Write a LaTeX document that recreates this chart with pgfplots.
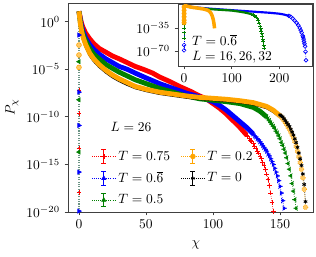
\documentclass[border=0pt]{standalone}
\usepackage{pgfplots}
\pgfplotsset{compat=1.18}
\definecolor{mred}{rgb}{1,0,0}
\definecolor{mblue}{rgb}{0,0,1}
\definecolor{mgreen}{rgb}{0,0.5,0}
\definecolor{morange}{rgb}{1,0.647,0}
\definecolor{zline}{rgb}{0.42,0.58,0.52}
\pgfplotsset{
  band/.style={line width=3.6pt, mark=none, line join=round},
  iband/.style={line width=2.2pt, mark=none, line join=round},
  tail/.style={densely dotted, line width=0.5pt, mark options={solid, line width=0.6pt}, mark size=1.8pt},
  itail/.style={densely dotted, line width=0.4pt, mark options={solid, line width=0.5pt}, mark size=1.4pt},
  errleg/.style={legend image code/.code={
    \draw[densely dotted, line width=0.5pt] (0cm,0cm) -- (0.6cm,0cm);
    \draw[solid, line width=0.6pt] (0.3cm,-5pt) -- (0.3cm,5pt)
       (0.3cm-1.8pt,-5pt) -- (0.3cm+1.8pt,-5pt) (0.3cm-1.8pt,5pt) -- (0.3cm+1.8pt,5pt);
    \draw[solid, mark options={solid}] plot coordinates {(0.3cm,0cm)};
  }},
}
\begin{document}
\begin{tikzpicture}
\path[use as bounding box] (-50.3pt,-32.6pt) rectangle (183.5pt,156.9pt);
\begin{axis}[
  at={(0pt,0pt)}, anchor=south west,
  scale only axis, width=181.3pt, height=154.7pt,
  xmin=-8.2, xmax=174.6, ymin=-20, ymax=1.97,
  xtick={0,50,100,150}, ytick={-20,-15,-10,-5,0},
  yticklabels={$10^{-20}$,$10^{-15}$,$10^{-10}$,$10^{-5}$,$10^{0}$},
  tick align=outside, tick pos=left, major tick length=2.5pt,
  axis line style={black!75}, tick style={black!75, line width=0.6pt},
  xlabel={$\chi$}, ylabel={$P_\chi$},
  xlabel style={at={(axis description cs:0.522,-0.158)}, anchor=center},
  ylabel style={at={(axis description cs:-0.229,0.5)}, anchor=center},
  legend columns=2,
  legend cell align=left,
  legend style={draw=none, fill=none, at={(0.08,0.32)}, anchor=north west,
    /tikz/every even column/.append style={column sep=6pt}, row sep=3pt},
]
% vertical dotted line at chi=0
\addplot[forget plot, densely dotted, color=zline, line width=0.8pt] coordinates {(0,1.1) (0,-20)};
% red T=0.75
\addplot[forget plot, band, color=mred] coordinates {
(0,1.1) (1,0.4) (2,-0.2) (3,-0.6) (5,-1.2) (8,-1.8) (11,-2.3) (15,-2.8) (20,-3.2) (25,-3.6) (30,-3.9) (36,-4.3) (42,-4.7) (48,-5.0) (55,-5.4) (60,-5.8) (68,-6.3) (75,-6.8) (83,-7.3) (90,-7.8) (95,-8.1) (100,-8.6) (105,-9.1) (110,-9.7) (115,-10.4) (120,-11.1) (125,-11.9)};
\addplot[forget plot, tail, color=mred, mark=+] coordinates {
(125,-11.9) (126,-12.1) (127,-12.3) (128,-12.5) (129,-12.6) (130,-12.8) (131,-13.1) (132,-13.3) (133,-13.6) (134,-13.8) (135,-14.1) (136,-14.4) (137,-14.8) (138,-15.1) (139,-15.5) (140,-16.0) (141,-16.6) (142,-17.2) (143,-18.0) (144,-19.0) (145,-19.9)};
\addplot[forget plot, only marks, color=mred, mark=+, mark size=1.8pt] coordinates {(0,-7.2) (0,-9.6) (0,-13.3) (0,-17.9)};
% blue T=0.6bar
\addplot[forget plot, band, color=mblue] coordinates {
(0,1.1) (1,0.2) (2,-0.5) (3,-1.0) (5,-1.7) (8,-2.4) (11,-2.9) (15,-3.4) (20,-3.9) (25,-4.3) (30,-4.7) (36,-5.0) (42,-5.4) (50,-5.9) (60,-6.5) (70,-7.0) (80,-7.5) (90,-7.9) (100,-8.4) (105,-8.8) (110,-9.3) (115,-9.9) (120,-10.5) (125,-11.1) (130,-11.8)};
\addplot[forget plot, tail, color=mblue, mark=triangle*, mark options={rotate=-90}] coordinates {
(130,-11.8) (131,-12.0) (132,-12.1) (133,-12.3) (134,-12.4) (135,-12.6) (136,-12.8) (137,-13.0) (138,-13.2) (139,-13.4) (140,-13.6) (141,-13.9) (142,-14.1) (143,-14.4) (144,-14.7) (145,-15.0) (146,-15.4) (147,-15.8) (148,-16.2) (149,-16.7) (150,-17.3) (151,-18.0) (152,-18.8) (153,-19.6)};
\addplot[forget plot, only marks, color=mblue, mark=triangle*, mark options={rotate=-90}, mark size=1.8pt] coordinates {(0,-1.4) (0,-7.4) (0,-10.9) (0,-15.8) (0,-19.9)};
% green T=0.5
\addplot[forget plot, band, color=mgreen] coordinates {
(0,1.1) (1,0.0) (2,-0.8) (3,-1.3) (5,-2.0) (8,-2.8) (11,-3.4) (15,-3.9) (20,-4.5) (25,-4.9) (30,-5.3) (36,-5.7) (42,-6.1) (50,-6.5) (60,-7.0) (70,-7.4) (80,-7.8) (90,-8.1) (100,-8.25) (110,-8.4) (120,-8.6) (130,-9.0) (135,-9.4) (140,-10.0)};
\addplot[forget plot, tail, color=mgreen, mark=triangle*, mark options={rotate=90}] coordinates {
(140,-10.0) (141,-10.2) (142,-10.4) (143,-10.6) (144,-10.8) (145,-11.0) (146,-11.2) (147,-11.5) (148,-11.7) (149,-12.0) (150,-12.3) (151,-12.7) (152,-13.0) (153,-13.4) (154,-13.8) (155,-14.3) (156,-14.9) (157,-15.5) (158,-16.2) (159,-17.0) (160,-17.8) (161,-18.7) (162,-19.6)};
\addplot[forget plot, only marks, color=mgreen, mark=triangle*, mark options={rotate=90}, mark size=1.8pt] coordinates {(0,-4.2) (0,-8.2) (0,-13.7)};
% black T=0 (band under orange)
\addplot[forget plot, line width=2pt, color=black] coordinates {
(0,1.1) (1,-0.4) (2,-1.2) (3,-1.8) (5,-2.6) (8,-3.5) (11,-4.1) (15,-4.7) (20,-5.3) (25,-5.8) (30,-6.2) (36,-6.6) (42,-6.95) (50,-7.25) (60,-7.55) (70,-7.75) (80,-7.95) (90,-8.1) (100,-8.2) (110,-8.3) (120,-8.45) (130,-8.65) (140,-9.05) (145,-9.45) (150,-10.0)};
% orange T=0.2
\addplot[forget plot, band, color=morange] coordinates {
(0,1.1) (1,-0.2) (2,-1.0) (3,-1.6) (5,-2.4) (8,-3.3) (11,-3.9) (15,-4.5) (20,-5.1) (25,-5.6) (30,-6.0) (36,-6.4) (42,-6.8) (50,-7.1) (60,-7.4) (70,-7.6) (80,-7.8) (90,-7.95) (100,-8.05) (110,-8.15) (120,-8.3) (130,-8.5) (140,-8.9) (145,-9.3) (150,-9.9)};
\addplot[forget plot, tail, color=morange, mark=*, mark options={fill=morange!60}] coordinates {
(150,-9.9) (151,-10.0) (152,-10.2) (153,-10.4) (154,-10.6) (155,-10.8) (156,-11.1) (157,-11.3) (158,-11.6) (159,-11.9) (160,-12.2) (161,-12.6) (162,-13.1) (163,-13.6) (164,-14.2) (165,-14.8) (166,-15.5) (167,-16.4) (168,-17.6) (169,-19.5)};
\addplot[forget plot, only marks, color=morange, mark=*, mark options={fill=morange!60}, mark size=1.8pt] coordinates {(0,-2.45) (0,-3.5) (0,-4.8)};
\addplot[forget plot, tail, color=black, mark=asterisk, mark size=1.5pt] coordinates {
(150,-9.8) (151,-9.9) (152,-10.0) (153,-10.2) (154,-10.4) (155,-10.6) (156,-10.8) (157,-11.0) (158,-11.3) (159,-11.6) (160,-11.9) (161,-12.3) (162,-12.7) (163,-13.2) (164,-13.8) (165,-14.4) (166,-15.1) (167,-16.0) (168,-17.1) (169,-18.9)};
% legend
\addlegendimage{errleg, color=mred, mark=+, mark size=1.8pt}
\addlegendentry{$T=0.75$}
\addlegendimage{errleg, color=morange, mark=*, mark options={fill=morange!60}, mark size=1.8pt}
\addlegendentry{$T=0.2$}
\addlegendimage{errleg, color=mblue, mark=triangle*, mark options={rotate=-90}, mark size=1.8pt}
\addlegendentry{$T=0.\overline{6}$}
\addlegendimage{errleg, color=black, mark=asterisk, mark size=1.5pt}
\addlegendentry{$T=0$}
\addlegendimage{errleg, color=mgreen, mark=triangle*, mark options={rotate=90}, mark size=1.8pt}
\addlegendentry{$T=0.5$}
\node[anchor=center] at (rel axis cs:0.257,0.407) {$L=26$};
\end{axis}
% inset
\begin{axis}[
  at={(81.4pt,108pt)}, anchor=south west,
  scale only axis, width=99.2pt, height=45.9pt,
  xmin=-12.8, xmax=268.8, ymin=-93, ymax=1.5,
  xtick={0,100,200}, ytick={-70,-35},
  yticklabels={$10^{-70}$,$10^{-35}$},
  tick align=outside, tick pos=left, major tick length=2.5pt,
  axis line style={black!75}, tick style={black!75, line width=0.6pt},
  axis background/.style={fill=white},
]
\addplot[densely dotted, color=mblue, line width=0.5pt] coordinates {(0,1.1) (0,-69)};
% L=32 blue
\addplot[iband, color=mblue, line width=1.6pt] coordinates {
(0,1.1) (5,-1.3) (20,-3.2) (50,-5.3) (100,-7.8) (150,-10.3) (180,-11.8) (200,-13.2) (210,-14.5) (220,-16.5)};
\addplot[itail, color=mblue, mark=o] coordinates {
(220,-16.5) (224,-18) (228,-20.5) (232,-23.5) (236,-27) (240,-31) (243,-35) (245,-38.5) (247,-42) (249,-46.5) (250,-49) (251,-52) (252,-55.5) (253,-59) (254,-63) (255,-71) (256,-84)};
\addplot[only marks, color=mblue, mark=o, mark size=1.4pt] coordinates {(0,-61) (0,-69)};
% L=26 green
\addplot[iband, color=mgreen, line width=1.6pt] coordinates {
(0,1.1) (5,-1.7) (11,-2.9) (20,-3.9) (30,-4.7) (42,-5.4) (60,-6.5) (80,-7.5) (100,-8.4) (120,-10.5) (130,-11.8) (140,-13.6) (145,-15.0)};
\addplot[itail, color=mgreen, mark=+] coordinates {
(145,-15.0) (148,-16.2) (150,-17.3) (152,-18.8) (154,-20.8) (156,-24) (158,-28) (160,-33) (161,-36) (162,-39.5) (163,-43) (164,-47) (165,-51.5) (166,-56) (167,-61) (168,-66)};
\addplot[only marks, color=mgreen, mark=+, mark size=1.4pt] coordinates {(0,-29) (0,-35) (0,-42) (0,-50)};
% L=16 orange
\addplot[iband, color=morange, line width=2.6pt] coordinates {
(0,1.1) (2,-0.5) (5,-1.5) (10,-2.5) (20,-3.8) (30,-4.8) (40,-6.0) (45,-6.8) (50,-8.0) (51,-8.5) (52,-9.0) (53,-9.6) (54,-10.3) (55,-11.1) (56,-12.1) (57,-13.3) (58,-14.8) (59,-16.6) (60,-18.8) (61,-21.5) (62,-25) (63,-29.5) (64,-35.5)};
\addplot[only marks, color=morange, mark=*, mark size=1.6pt] coordinates {(0,-3) (0,-8) (0,-13) (0,-18) (0,-23) (0,-27)};
\node[anchor=west] at (rel axis cs:0.07,0.42) {$T=0.\overline{6}$};
\node[anchor=west] at (rel axis cs:0.07,0.137) {$L=16,26,32$};
\end{axis}
\end{tikzpicture}
\end{document}
